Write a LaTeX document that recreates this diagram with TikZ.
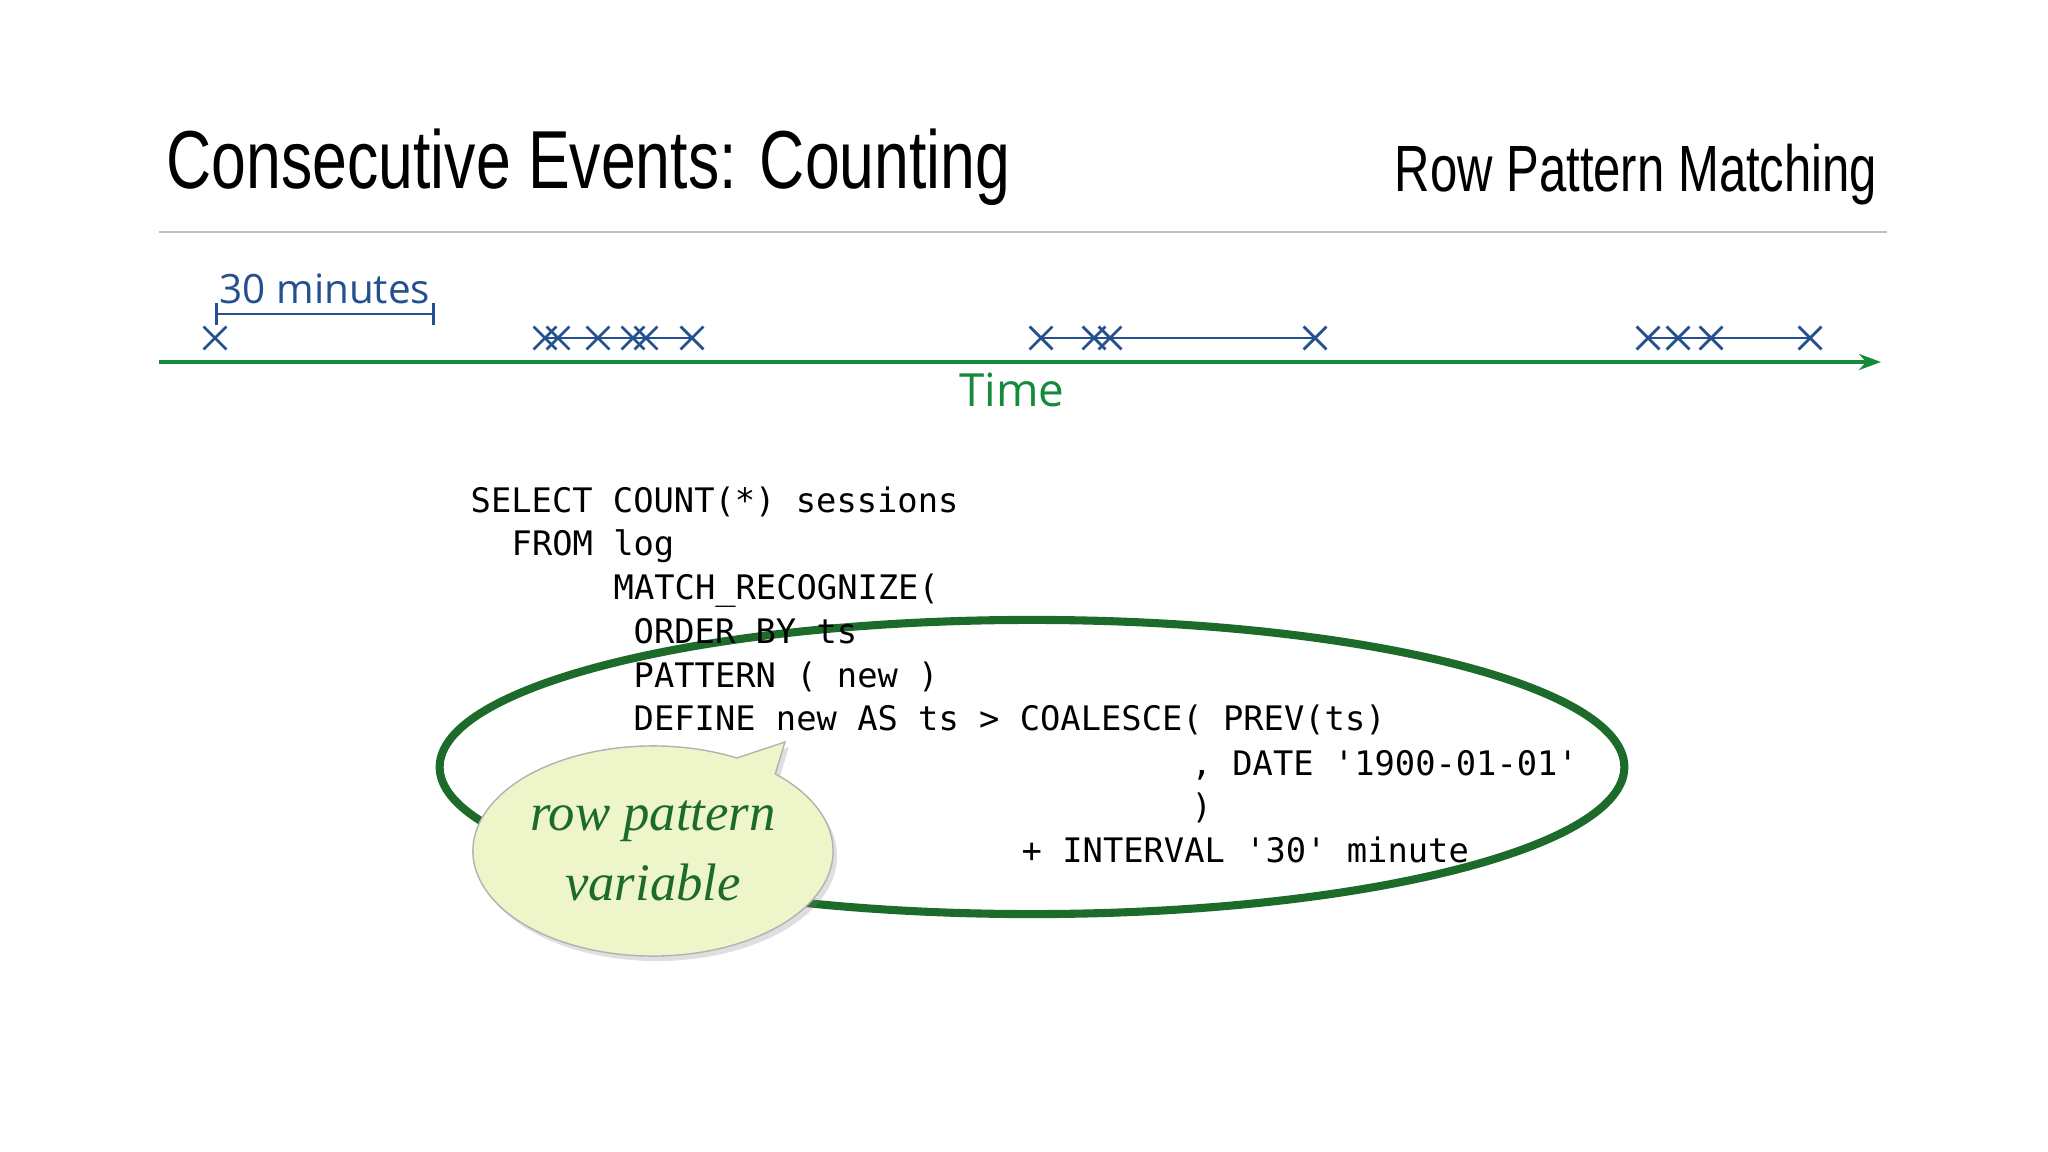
\documentclass[tikz,border=0pt]{standalone}
\usepackage{fontspec}
\setmainfont{Liberation Sans}
\newfontfamily\codefont{DejaVu Sans Mono}
\newfontfamily\labelfont{Open Sans}
\newfontfamily\handfont{Liberation Serif}
\usetikzlibrary{shapes.geometric,shapes.misc,shapes.callouts,shadows,arrows.meta}
\definecolor{lineblue}{HTML}{24508F}
\definecolor{timegreen}{HTML}{138A3C}
\definecolor{loopgreen}{HTML}{1D6B2A}
\definecolor{bubblefill}{HTML}{EEF5C8}
\tikzset{
	evt/.style={cross out, draw=lineblue, minimum size=0.2cm, inner sep=0pt, line width=0.8pt},
	code/.style={font=\codefont\fontsize{9.6}{11}\selectfont, anchor=base west, inner sep=0pt},
}
\begin{document}
\begin{tikzpicture}[x=0.01cm, y=-0.01cm]
	\useasboundingbox (0,0) rectangle (2048,1152);

	%heading
	\node[anchor=base west, inner sep=0pt] (title) at (166,189)
		{\scalebox{0.76}[1]{\fontsize{23.4}{26}\selectfont Consecutive Events: Counting}};
	\node[anchor=base east, inner sep=0pt] (topic) at (1878,192)
		{\scalebox{0.75}[1]{\fontsize{18.6}{22}\selectfont Row Pattern Matching}};
	\coordinate (ruleL) at (159,232);
	\coordinate (ruleR) at (1887,232);
	\draw[black!25, line width=0.6pt] (ruleL) -- (ruleR);

	%time axis
	\coordinate (axisL) at (159,362);
	\coordinate (axisR) at (1881,362);
	\draw[timegreen, line width=1pt, -{Stealth[length=0.22cm, width=0.16cm]}] (axisL) -- (axisR);
	\node[timegreen, font=\labelfont\fontsize{13}{15}\selectfont] (time) at (1012,390) {Time};

	%events
	\foreach \x [count=\i] in {215,545,558,598,633,646,692,1041,1094,1110,1315,1648,1678,1711,1810}
		\node[evt] (e\i) at (\x,338) {};
	\draw[lineblue, line width=0.8pt] (e2.center) -- (e7.center);
	\draw[lineblue, line width=0.8pt] (e8.center) -- (e11.center);
	\draw[lineblue, line width=0.8pt] (e12.center) -- (e15.center);

	%30 minutes scale
	\coordinate (spanL) at (215,314);
	\coordinate (spanR) at (435,314);
	\draw[lineblue, line width=0.8pt, |-|] (spanL) -- (spanR);
	\node[lineblue, font=\labelfont\fontsize{11.5}{14}\selectfont, anchor=base] (span) at (325,304) {30 minutes};

	%highlight of the DEFINE clause
	\node[draw=loopgreen, line width=2.3pt, ellipse, minimum width=11.84cm, minimum height=2.94cm] (loop) at (1032,767) {};

	%the query
	\node[code] (q1) at (470,512) {SELECT COUNT(*) sessions};
	\node[code] (q2) at (511,555) {FROM log};
	\node[code] (q3) at (613,600) {MATCH\_RECOGNIZE(};
	\node[code] (q4) at (633,643) {ORDER BY ts};
	\node[code] (q5) at (633,687) {PATTERN ( new )};
	\node[code] (q6) at (633,730) {DEFINE new AS ts > COALESCE( PREV(ts)};
	\node[code] (q7) at (1191,775) {, DATE '1900-01-01'};
	\node[code] (q8) at (1191,818) {)};
	\node[code] (q9) at (1021,862) {+ INTERVAL '30' minute};

	%callout
	\node[ellipse callout, callout absolute pointer={(785,742)}, fill=bubblefill, draw=black!30,
		drop shadow={opacity=0.25, shadow xshift=0.04cm, shadow yshift=-0.05cm}, inner sep=0pt,
		minimum width=3.6cm, minimum height=2.1cm,
		align=center, text=loopgreen, font=\handfont\itshape\fontsize{15}{20}\selectfont] (note) at (653,851)
		{row pattern\\variable};
\end{tikzpicture}
\end{document}
